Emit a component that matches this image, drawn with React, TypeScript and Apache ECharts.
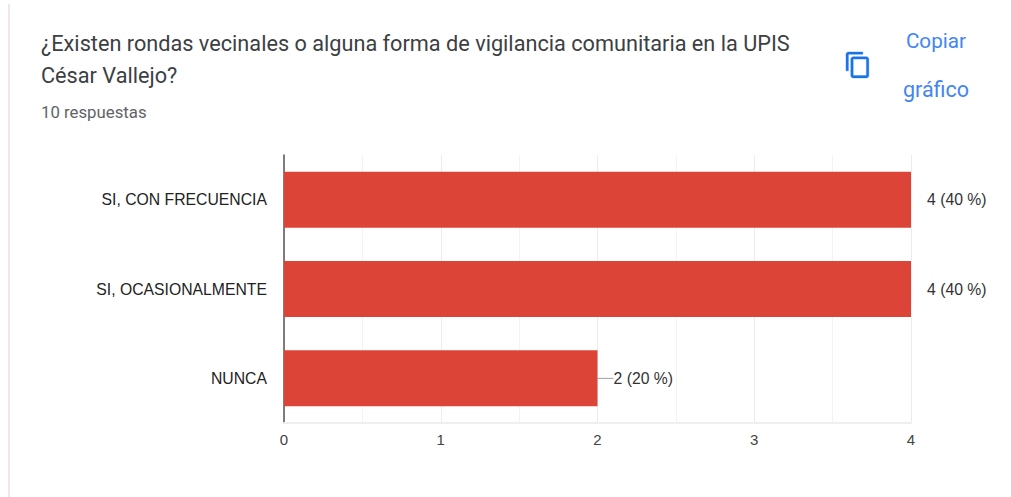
import React, { useEffect, useRef } from "react";
import * as echarts from "echarts";

const categories = ["SI, CON FRECUENCIA", "SI, OCASIONALMENTE", "NUNCA"];
const counts = [4, 4, 2];
const percents = [40, 40, 20];
const xTicks = [0, 1, 2, 3, 4];
const titleLines = "¿Existen rondas vecinales o alguna forma de vigilancia comunitaria en la UPIS\nCésar Vallejo?";
const subtitle = "10 respuestas";
const copyLines = ["Copiar", "gráfico"];

const COPY_ICON = "M16 1H4c-1.1 0-2 .9-2 2v14h2V3h12V1zm3 4H8c-1.1 0-2 .9-2 2v14c0 1.1.9 2 2 2h11c1.1 0 2-.9 2-2V7c0-1.1-.9-2-2-2zm0 16H8V7h11v14z";
echarts.graphic.registerShape("copyIcon", echarts.graphic.extendPath(COPY_ICON as any, {} as any) as any);

export default function App() {
  const ref = useRef<HTMLDivElement>(null);
  useEffect(() => {
    const chart = echarts.init(ref.current!, undefined, { renderer: "svg" });
    chart.setOption({
      animation: false,
      backgroundColor: "#ffffff",
      textStyle: { fontFamily: "Roboto" },
      grid: { left: 284, top: 155, width: 627, height: 268, containLabel: false },
      xAxis: {
        type: "value",
        min: xTicks[0],
        max: xTicks[xTicks.length - 1],
        interval: 1,
        axisLine: { show: true, onZero: false, lineStyle: { color: "#efefef", width: 2 } },
        axisTick: { show: false },
        axisLabel: { color: "#444444", fontSize: 15, margin: 9, fontFamily: "Arial, Liberation Sans" },
        splitLine: { show: true, lineStyle: { color: "#ececec", width: 1 } },
        minorTick: { show: false, splitNumber: 2 },
        minorSplitLine: { show: true, lineStyle: { color: "#f3f3f3", width: 1 } },
      },
      yAxis: {
        type: "category",
        inverse: true,
        data: categories,
        axisLine: { show: true, lineStyle: { color: "#555555", width: 1.5 } },
        axisTick: { show: false },
        axisLabel: { color: "#222222", fontSize: 15.75, margin: 17, fontFamily: "Arial, Liberation Sans" },
      },
      series: [
        {
          type: "bar",
          data: counts.map((value) => ({ value, labelLine: { show: value < xTicks[xTicks.length - 1] } })),
          barWidth: 56,
          itemStyle: { color: "#db4437" },
          label: {
            show: true,
            position: "right",
            distance: 0,
            color: "#333333",
            fontSize: 15.75,
            fontFamily: "Arial, Liberation Sans",
            formatter: (p: any) => `${counts[p.dataIndex]} (${percents[p.dataIndex]} %)`,
          },
          labelLayout: { dx: 16 },
          labelLine: { show: true, lineStyle: { color: "#9e9e9e", width: 1 } },
        },
      ],
      graphic: [
        { type: "rect", shape: { x: 8, y: 4, width: 2, height: 493 }, style: { fill: "#f0e6e6" }, silent: true },
        {
          type: "text",
          x: 41,
          y: 27,
          style: { text: titleLines, fontFamily: "Roboto", fontSize: 21.7, lineHeight: 32, fill: "#3c4043" },
        },
        {
          type: "text",
          x: 41,
          y: 103,
          style: { text: subtitle, fontFamily: "Roboto", fontSize: 16.8, fill: "#5f6368" },
        },
        {
          type: "copyIcon",
          x: 843.6,
          y: 50.8,
          scaleX: 1.2,
          scaleY: 1.18,
          style: { fill: "#1a73e8", stroke: "#1a73e8", lineWidth: 0.3 },
        },
        {
          type: "text",
          x: 936,
          y: 41,
          style: { text: copyLines[0], fontFamily: "Roboto", fontSize: 20.7, fill: "#4285f4", align: "center", verticalAlign: "middle" },
        },
        {
          type: "text",
          x: 936,
          y: 89,
          style: { text: copyLines[1], fontFamily: "Roboto", fontSize: 21.5, fill: "#4285f4", align: "center", verticalAlign: "middle" },
        },
      ],
    });
    return () => chart.dispose();
  }, []);
  return <div ref={ref} style={{ position: "absolute", left: 0, top: 0, width: 1011, height: 497 }} />;
}
